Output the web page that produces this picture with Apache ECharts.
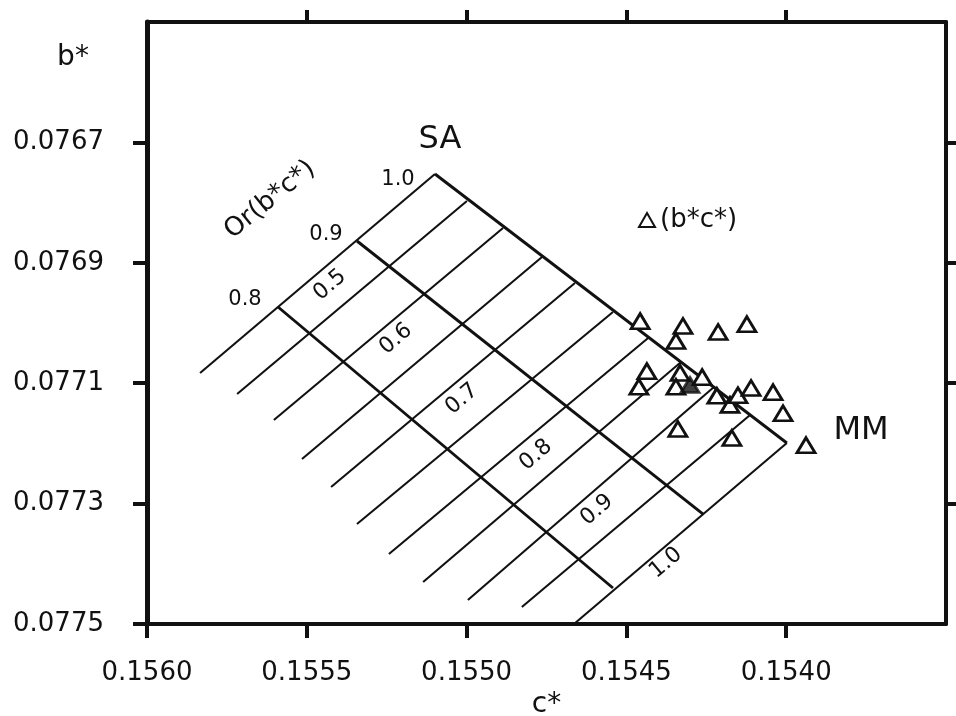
<!DOCTYPE html>
<html><head><meta charset="utf-8">
<script src="https://cdn.jsdelivr.net/npm/echarts@6/dist/echarts.min.js"></script>
<style>html,body{margin:0;padding:0;background:#fff}#c{width:956px;height:716px}</style>
</head><body><div id="c"></div>
<script>
// Axis tick values
const xTicks = [0.1560, 0.1555, 0.1550, 0.1545, 0.1540];
const yTicks = [0.0767, 0.0769, 0.0771, 0.0773, 0.0775];

// Lines of constant composition: upper end (on the SA–MM, Or = 1.0 line) and lower end
const compUpperC = [0.155099, 0.154999, 0.154886, 0.154764, 0.154661, 0.154542, 0.154432, 0.154329, 0.154226, 0.154113, 0.153998];
const compUpperB = [0.0767525, 0.0767973, 0.0768422, 0.0768904, 0.0769335, 0.0769817, 0.0770249, 0.0770648, 0.0771063, 0.0771528, 0.0771993];
const compLowerC = [0.155834, 0.155718, 0.155603, 0.155515, 0.155424, 0.155343, 0.155243, 0.155136, 0.154996, 0.154827, 0.154664];
const compLowerB = [0.077083, 0.0771179, 0.0771611, 0.0772259, 0.0772724, 0.0773339, 0.0773837, 0.0774302, 0.0774601, 0.0774717, 0.0775];
const compLabels = ['0.5', '0.6', '0.7', '0.8', '0.9', '1.0'];

// Lines of constant Or(b*c*)
const orLevels = ['1.0', '0.9', '0.8'];
const orStartC = [0.155099, 0.155343, 0.155590];
const orStartB = [0.0767525, 0.0768638, 0.0769734];
const orEndC = [0.153998, 0.154260, 0.154542];
const orEndB = [0.0771993, 0.0773173, 0.0774402];

// Measured samples (b*c*)
const ptsC = [0.154457, 0.154323, 0.154345, 0.154213, 0.154123, 0.154436, 0.154461, 0.154332, 0.154345, 0.154263,
              0.154217, 0.154176, 0.154151, 0.154110, 0.154041, 0.154010, 0.154339, 0.154170, 0.153938];
const ptsB = [0.076997, 0.077005, 0.077030, 0.077015, 0.077002, 0.077080, 0.077106, 0.077083, 0.077106, 0.077090,
              0.077121, 0.077136, 0.077120, 0.077108, 0.077115, 0.077150, 0.077176, 0.077191, 0.077203];
// coincident (overlapping) samples, drawn filled
const overlapC = [0.154301];
const overlapB = [0.077103];

const INK = '#111';
const FONT = 'DejaVu Sans';

const series = [];
compUpperC.forEach((c, i) => {
  series.push({
    type: 'line', silent: true, symbol: 'none', z: 2, animation: false,
    lineStyle: { color: INK, width: 2.1 },
    data: [[compLowerC[i], compLowerB[i]], [c, compUpperB[i]]]
  });
});
orLevels.forEach((lv, i) => {
  series.push({
    type: 'line', silent: true, symbol: 'none', z: 3, animation: false,
    lineStyle: { color: INK, width: 2.9 },
    data: [[orStartC[i], orStartB[i]], [orEndC[i], orEndB[i]]]
  });
});
series.push({
  type: 'scatter', name: '(b*c*)', symbol: 'triangle', symbolSize: [18, 15], z: 5,
  itemStyle: { color: '#fff', borderColor: INK, borderWidth: 2.8, opacity: 1 },
  data: ptsC.map((c, i) => [c, ptsB[i]])
});
series.push({
  type: 'scatter', name: 'overlap', symbol: 'triangle', symbolSize: [18, 15], z: 6,
  itemStyle: { color: INK, borderColor: INK, borderWidth: 2.8 },
  data: overlapC.map((c, i) => [c, overlapB[i]])
});

const txt = (text, x, y, size, rot) => ({
  type: 'text', x: x, y: y, rotation: rot || 0, z: 10,
  style: { text: text, fontSize: size, fontFamily: FONT, fill: INK, align: 'center', verticalAlign: 'middle' }
});
const compPos = [[330, 285], [396, 339], [462, 399], [536, 455], [597, 510], [666, 563]];
const orPos = [[398, 180], [326, 235], [245, 300]];
const graphics = [
  txt('b*', 73, 58, 28),
  txt('SA', 440, 140, 32),
  txt('MM', 861, 431, 32),
  txt('Or(b*c*)', 270, 200, 26, 0.68)
];
orLevels.forEach((t, i) => graphics.push(txt(t, orPos[i][0], orPos[i][1], 21)));
compLabels.forEach((t, i) => graphics.push(txt(t, compPos[i][0], compPos[i][1], 22, 0.70)));

const axisLineStyle = w => ({ show: true, onZero: false, lineStyle: { color: INK, width: w } });

const option = {
  backgroundColor: '#fff',
  animation: false,
  grid: { left: 147, top: 22, right: 10, bottom: 92, containLabel: false, outerBoundsMode: 'none' },
  legend: {
    data: ['(b*c*)'], left: 633, top: 202, itemWidth: 16, itemHeight: 14,
    textStyle: { fontSize: 26, fontFamily: FONT, color: INK }, selectedMode: false
  },
  xAxis: [{
    type: 'value', position: 'bottom', min: 0.1535, max: 0.1560, interval: 0.0005, inverse: true,
    axisLine: axisLineStyle(4),
    axisTick: { show: true, inside: false, length: 14, lineStyle: { color: INK, width: 4 }, customValues: xTicks },
    axisLabel: { show: true, customValues: xTicks, margin: 36, fontSize: 26, fontFamily: FONT, color: INK,
                 formatter: v => v.toFixed(4) },
    splitLine: { show: false },
    name: 'c*', nameLocation: 'middle', nameGap: 64,
    nameTextStyle: { fontSize: 28, fontFamily: FONT, color: INK }
  }, {
    type: 'value', position: 'top', min: 0.1535, max: 0.1560, interval: 0.0005, inverse: true,
    axisLine: axisLineStyle(4),
    axisTick: { show: true, inside: false, length: 12, lineStyle: { color: INK, width: 4 }, customValues: xTicks.slice(1) },
    axisLabel: { show: false }, splitLine: { show: false }
  }],
  yAxis: [{
    type: 'value', position: 'left', min: 0.0765, max: 0.0775, interval: 0.0002, inverse: true,
    axisLine: axisLineStyle(5),
    axisTick: { show: true, inside: false, length: 14, lineStyle: { color: INK, width: 4 }, customValues: yTicks },
    axisLabel: { show: true, customValues: yTicks, margin: 43, fontSize: 26, fontFamily: FONT, color: INK,
                 formatter: v => v.toFixed(4) },
    splitLine: { show: false }
  }, {
    type: 'value', position: 'right', min: 0.0765, max: 0.0775, interval: 0.0002, inverse: true,
    axisLine: axisLineStyle(4),
    axisTick: { show: true, inside: false, length: 14, lineStyle: { color: INK, width: 4 }, customValues: yTicks.slice(0, 4) },
    axisLabel: { show: false }, splitLine: { show: false }
  }],
  series: series,
  graphic: graphics
};

const chart = echarts.init(document.getElementById('c'), null, { renderer: 'canvas' });
chart.setOption(option);
</script>
</body></html>
